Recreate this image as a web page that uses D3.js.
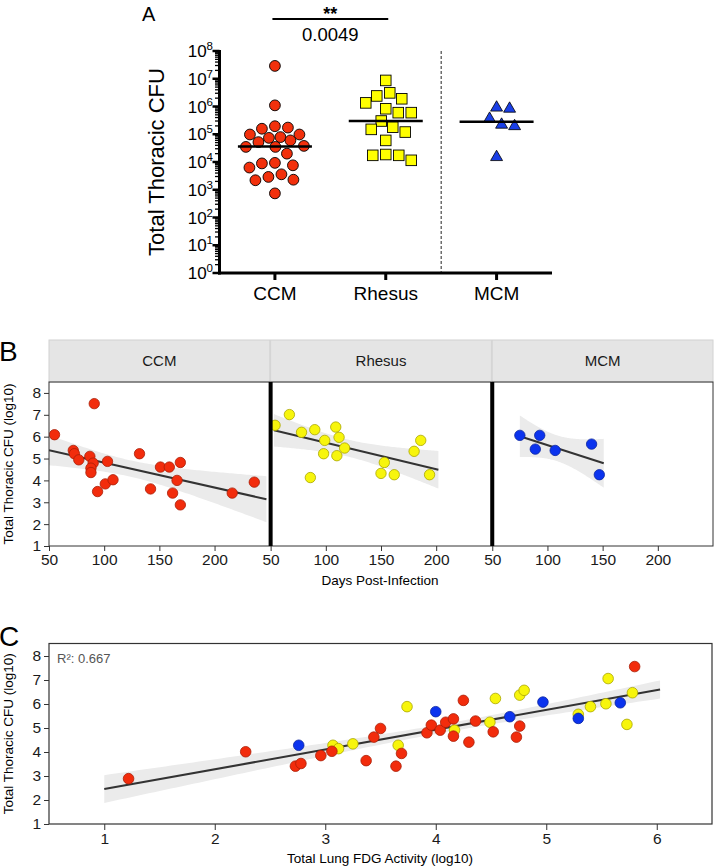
<!DOCTYPE html>
<html><head><meta charset="utf-8">
<script src="https://cdn.jsdelivr.net/npm/d3@7"></script>
<style>
html,body{margin:0;padding:0;background:#fff;}
svg{display:block;font-family:"Liberation Sans", Arial, Helvetica, sans-serif;}
</style></head><body>
<svg id="chart" width="714" height="868"></svg>
<script>
// ---------------- DATA ----------------
const groups = ["CCM", "Rhesus", "MCM"];

// Panel A: total thoracic CFU per animal
const cfuCCM = [2.9e7, 1.1e6, 1.74e5, 1.95e5, 9.8e4, 9.8e4, 1.58e5, 7.4e4, 7.9e4, 5.2e4, 6.0e4, 3.5e4,
                3.5e4, 3.8e4, 2.0e4, 8.9e3, 6.3e3, 7.6e3, 9.3e3, 3.6e3, 2.3e3, 2.2e3, 2.9e3, 740];
const cfuRhesus = [8.7e6, 3.1e6, 1.9e6, 2.4e6, 1.35e6, 8.3e5, 6.0e5, 6.0e5, 3.0e5, 1.8e5, 1.5e5, 1.2e5,
                   6.0e4, 1.74e4, 1.15e4, 1.74e4, 1.86e4];
const cfuMCM = [8.3e5, 9.1e5, 3.6e5, 2.2e5, 1.95e5, 1.5e4];
const yExponentsA = [0, 1, 2, 3, 4, 5, 6, 7, 8];
const sigStars = "**";
const pValueLabel = "0.0049";

// Panel B: days post-infection vs log10 CFU
const daysCCM = [55, 72, 73, 77, 91, 87, 90, 88, 88, 94, 103, 101, 108, 132, 142, 151, 159, 169, 166, 162, 169, 216, 236];
const logCfuCCM = [6.09, 5.37, 5.22, 4.94, 7.51, 5.10, 4.79, 4.56, 4.36, 3.49, 4.87, 3.84, 4.03, 5.22, 3.61, 4.61, 4.61, 4.82, 4.00, 3.42, 2.88, 3.42, 3.92];
const daysRhesus = [54, 67, 78, 90, 86, 99, 98, 109, 112, 117, 110, 153, 150, 162, 186, 180, 194];
const logCfuRhesus = [6.52, 7.01, 6.20, 6.32, 4.13, 5.83, 5.22, 6.44, 5.97, 5.48, 5.13, 4.82, 4.32, 4.26, 5.83, 5.33, 4.26];
const daysMCM = [75, 93, 89, 107, 140, 147];
const logCfuMCM = [6.06, 6.06, 5.43, 5.37, 5.66, 4.26];
const fitRangeDays = {CCM: [50, 247], Rhesus: [53, 202], MCM: [75, 151]};
const dayTicks = [50, 100, 150, 200];
const logTicks = [1, 2, 3, 4, 5, 6, 7, 8];

// Panel C: lung FDG activity (log10) vs CFU (log10)
const fdgRhesus = [3.07, 3.12, 3.25, 3.66, 3.74, 4.17, 4.49, 4.54, 4.76, 4.80, 5.29, 5.40, 5.56, 5.54, 5.78, 5.73];
const fdgCfuRhesus = [4.28, 4.14, 4.34, 4.28, 5.89, 4.91, 5.24, 6.23, 6.37, 6.57, 5.57, 5.89, 7.06, 6.01, 6.47, 5.15];
const fdgCCM = [1.22, 2.28, 2.73, 2.78, 2.96, 3.06, 3.37, 3.44, 3.50, 3.69, 3.64, 3.92, 3.96, 4.04, 4.09, 4.16, 4.16, 4.25, 4.30, 4.36, 4.52, 4.76, 4.73, 5.80];
const fdgCfuCCM = [2.89, 4.01, 3.41, 3.52, 3.85, 4.03, 3.64, 4.62, 4.98, 3.94, 3.41, 4.80, 5.12, 4.91, 5.24, 5.38, 4.66, 6.15, 4.41, 5.29, 4.84, 5.08, 4.62, 7.56];
const fdgMCM = [2.76, 4.00, 4.67, 4.97, 5.29, 5.67];
const fdgCfuMCM = [4.28, 5.68, 5.47, 6.08, 5.40, 6.05];
const fitRangeFdg = [1.0, 6.03];
const fdgTicks = [1, 2, 3, 4, 5, 6];
const r2Label = "R²: 0.667";

// ---------------- STYLE ----------------
const fillA = {CCM: "#f2300c", Rhesus: "#ffff00", MCM: "#1a3fe6"};
const fillPt = {CCM: "#f22c0c", Rhesus: "#f7f50c", MCM: "#0b33ee"};
const strokePt = {CCM: "#a81e08", Rhesus: "#aaa600", MCM: "#0a24a0"};

const svg = d3.select("#chart");

// ---------------- helpers ----------------
function tq975(df) {
  const z = 1.959964;
  const g1 = (z ** 3 + z) / 4;
  const g2 = (5 * z ** 5 + 16 * z ** 3 + 3 * z) / 96;
  const g3 = (3 * z ** 7 + 19 * z ** 5 + 17 * z ** 3 - 15 * z) / 384;
  return z + g1 / df + g2 / df ** 2 + g3 / df ** 3;
}
function linFit(xs, ys) {
  const n = xs.length, mx = d3.mean(xs), my = d3.mean(ys);
  let sxx = 0, sxy = 0;
  xs.forEach((x, i) => { sxx += (x - mx) ** 2; sxy += (x - mx) * (ys[i] - my); });
  const b = sxy / sxx, a = my - b * mx;
  let sse = 0;
  xs.forEach((x, i) => { sse += (ys[i] - a - b * x) ** 2; });
  const s = Math.sqrt(sse / (n - 2)), t = tq975(n - 2);
  return {pred: x => a + b * x, half: x => t * s * Math.sqrt(1 / n + (x - mx) ** 2 / sxx)};
}
function drawSmooth(g, xs, ys, range, xs_, ys_) {
  const f = linFit(xs, ys);
  const grid = d3.range(0, 101).map(i => range[0] + (range[1] - range[0]) * i / 100);
  g.append("path")
    .attr("d", d3.area().x(d => xs_(d)).y0(d => ys_(f.pred(d) - f.half(d))).y1(d => ys_(f.pred(d) + f.half(d)))(grid))
    .attr("fill", "#ebebeb");
  g.append("path")
    .attr("d", d3.line().x(d => xs_(d)).y(d => ys_(f.pred(d)))(range))
    .attr("stroke", "#333").attr("stroke-width", 2).attr("fill", "none");
}
// beeswarm with a maximum spread; falls back to least-overlapping spot
function swarm(vals, yScale, cx, dist, maxOff) {
  const pts = vals.map((v, i) => ({v, y: yScale(v), i}));
  const order = pts.slice().sort((a, b) => a.y - b.y);
  const placed = [];
  order.forEach(p => {
    let best = null, bestScore = -1;
    const cands = [0];
    for (let k = 1; k * 0.5 <= maxOff; k++) cands.push(k * 0.5, -k * 0.5);
    for (const o of cands) {
      const x = cx + o;
      const md = placed.length ? d3.min(placed, q => Math.hypot(q.x - x, q.y - p.y)) : Infinity;
      if (md >= dist) { best = x; break; }
      if (md > bestScore + 0.01) { bestScore = md; best = x; }
    }
    p.x = best; placed.push(p);
  });
  return pts;
}

// ================= PANEL A =================
const A = {left: 219.5, right: 552, top: 51, bottom: 273};
const yA = d3.scaleLog().domain([1, 1e8]).range([A.bottom, A.top]);
const xA = d3.scalePoint().domain(groups).range([A.left, A.right]).padding(0.5);
const gA = svg.append("g");

gA.append("text").attr("x", 142).attr("y", 21).attr("font-size", 20).text("A");

// minor ticks
const minorA = [];
for (let e = 0; e < 8; e++) for (let m = 2; m <= 9; m++) minorA.push(m * 10 ** e);
gA.selectAll("line.mn").data(minorA).join("line")
  .attr("x1", A.left - 4.5).attr("x2", A.left).attr("y1", d => yA(d)).attr("y2", d => yA(d))
  .attr("stroke", "#000").attr("stroke-width", 1.3);
gA.selectAll("line.mj").data(yExponentsA).join("line")
  .attr("x1", A.left - 7).attr("x2", A.left).attr("y1", d => yA(10 ** d)).attr("y2", d => yA(10 ** d))
  .attr("stroke", "#000").attr("stroke-width", 2.5);
const tl = gA.selectAll("text.tl").data(yExponentsA).join("text")
  .attr("x", 213).attr("y", d => yA(10 ** d)).attr("dy", "0.36em")
  .attr("text-anchor", "end").attr("font-size", 17);
tl.append("tspan").text("10");
tl.append("tspan").attr("dy", -7).attr("font-size", 11.5).text(d => d);

gA.append("line").attr("x1", A.left).attr("x2", A.left).attr("y1", A.top - 1).attr("y2", A.bottom + 1.5)
  .attr("stroke", "#000").attr("stroke-width", 3);
gA.append("line").attr("x1", A.left - 1.5).attr("x2", A.right).attr("y1", A.bottom).attr("y2", A.bottom)
  .attr("stroke", "#000").attr("stroke-width", 3);
gA.selectAll("line.ct").data(groups).join("line")
  .attr("x1", d => xA(d)).attr("x2", d => xA(d)).attr("y1", A.bottom).attr("y2", A.bottom + 7)
  .attr("stroke", "#000").attr("stroke-width", 3);
gA.selectAll("text.cl").data(groups).join("text")
  .attr("x", d => xA(d)).attr("y", 300).attr("text-anchor", "middle").attr("font-size", 19).text(d => d);

gA.append("text").attr("transform", `translate(164,${(A.top + A.bottom) / 2}) rotate(-90)`)
  .attr("text-anchor", "middle").attr("font-size", 22).text("Total Thoracic CFU");

// dashed separator
const sepX = (xA("Rhesus") + xA("MCM")) / 2;
gA.append("line").attr("x1", sepX).attr("x2", sepX).attr("y1", A.top).attr("y2", A.bottom - 1)
  .attr("stroke", "#222").attr("stroke-width", 1).attr("stroke-dasharray", "3,2");

// significance
gA.append("line").attr("x1", xA("CCM") - 2.5).attr("x2", xA("Rhesus") + 2.5).attr("y1", 19).attr("y2", 19)
  .attr("stroke", "#000").attr("stroke-width", 2);
gA.append("text").attr("x", (xA("CCM") + xA("Rhesus")) / 2).attr("y", 20).attr("text-anchor", "middle")
  .attr("font-size", 18).attr("font-weight", "bold").text(sigStars);
gA.append("text").attr("x", (xA("CCM") + xA("Rhesus")) / 2).attr("y", 41).attr("text-anchor", "middle")
  .attr("font-size", 18.5).text(pValueLabel);

// points
const valsA = {CCM: cfuCCM, Rhesus: cfuRhesus, MCM: cfuMCM};
const ptsCCM = swarm(cfuCCM, yA, xA("CCM"), 13, 29);
gA.selectAll("circle.pa").data(ptsCCM).join("circle")
  .attr("cx", d => d.x).attr("cy", d => d.y).attr("r", 5.4)
  .attr("fill", fillA.CCM).attr("stroke", "#000").attr("stroke-width", 0.9);
const ptsRh = swarm(cfuRhesus, yA, xA("Rhesus"), 13, 26);
gA.selectAll("rect.pa").data(ptsRh).join("rect")
  .attr("x", d => d.x - 5.3).attr("y", d => d.y - 5.3).attr("width", 10.6).attr("height", 10.6)
  .attr("fill", fillA.Rhesus).attr("stroke", "#000").attr("stroke-width", 0.9);
const ptsM = swarm(cfuMCM, yA, xA("MCM"), 13, 18);
gA.selectAll("path.pa").data(ptsM).join("path")
  .attr("transform", d => `translate(${d.x},${d.y})`)
  .attr("d", d3.symbol(d3.symbolTriangle, 62)())
  .attr("fill", fillA.MCM).attr("stroke", "#000").attr("stroke-width", 0.8);

// medians
groups.forEach(g => {
  const med = 10 ** d3.median(valsA[g].map(Math.log10));
  gA.append("line").attr("x1", xA(g) - 37).attr("x2", xA(g) + 37).attr("y1", yA(med)).attr("y2", yA(med))
    .attr("stroke", "#000").attr("stroke-width", 2.5);
});

// ================= PANEL B =================
const B = {left: 49, right: 713, stripTop: 340, top: 382, bottom: 546};
const band = d3.scaleBand().domain(groups).range([B.left, B.right]).paddingInner(0.004);
const yB = d3.scaleLinear().domain([1, 8.5]).range([B.bottom, B.top]);
const gB = svg.append("g");
gB.append("text").attr("x", -1).attr("y", 361).attr("font-size", 28).text("B");
const dataB = {
  CCM: [daysCCM, logCfuCCM],
  Rhesus: [daysRhesus, logCfuRhesus],
  MCM: [daysMCM, logCfuMCM]
};
groups.forEach((g, i) => {
  const x0 = band(g), w = band.bandwidth();
  const xB = d3.scaleLinear().domain([50, 250]).range([x0, x0 + w]);
  const f = gB.append("g");
  f.append("rect").attr("x", x0).attr("y", B.stripTop).attr("width", w).attr("height", B.top - B.stripTop)
    .attr("fill", "#e5e5e5").attr("stroke", "#d2d2d2").attr("stroke-width", 1);
  f.append("text").attr("x", x0 + w / 2).attr("y", (B.stripTop + B.top) / 2).attr("dy", "0.36em")
    .attr("text-anchor", "middle").attr("font-size", 15).attr("fill", "#1a1a1a").text(g);
  const cid = "clipB" + i;
  svg.append("clipPath").attr("id", cid).append("rect").attr("x", x0).attr("y", B.top).attr("width", w).attr("height", B.bottom - B.top);
  const inner = f.append("g").attr("clip-path", `url(#${cid})`);
  const [xs, ys] = dataB[g];
  drawSmooth(inner, xs, ys, fitRangeDays[g], xB, yB);
  inner.selectAll("circle").data(xs.map((x, j) => [x, ys[j]])).join("circle")
    .attr("cx", d => xB(d[0])).attr("cy", d => yB(d[1])).attr("r", 5.2)
    .attr("fill", fillPt[g]).attr("stroke", strokePt[g]).attr("stroke-width", 0.8);
  f.append("rect").attr("x", x0).attr("y", B.top).attr("width", w).attr("height", B.bottom - B.top)
    .attr("fill", "none").attr("stroke", "#333").attr("stroke-width", 1);
  if (i > 0) {
    f.append("line").attr("x1", x0).attr("x2", x0).attr("y1", B.top).attr("y2", B.bottom)
      .attr("stroke", "#000").attr("stroke-width", 4);
  }
  const ax = f.append("g").attr("transform", `translate(0,${B.bottom})`)
    .call(d3.axisBottom(xB).tickValues(dayTicks).tickSize(5).tickPadding(3));
  ax.select(".domain").remove();
  ax.selectAll("line").attr("stroke", "#333");
  ax.selectAll("text").attr("font-size", 15.5).attr("fill", "#1a1a1a").attr("font-family", null);
  if (i === 0) {
    const ay = f.append("g").attr("transform", `translate(${x0},0)`)
      .call(d3.axisLeft(yB).tickValues(logTicks).tickSize(5).tickPadding(3));
    ay.select(".domain").remove();
    ay.selectAll("line").attr("stroke", "#333");
    ay.selectAll("text").attr("font-size", 15.5).attr("fill", "#1a1a1a").attr("font-family", null);
  }
});
gB.append("text").attr("transform", `translate(13,${(B.top + B.bottom) / 2}) rotate(-90)`)
  .attr("text-anchor", "middle").attr("font-size", 13.5).text("Total Thoracic CFU (log10)");
gB.append("text").attr("x", 380).attr("y", 585).attr("text-anchor", "middle").attr("font-size", 13.5)
  .text("Days Post-Infection");

// ================= PANEL C =================
const C = {left: 49, right: 712, top: 643.5, bottom: 824};
const xC = d3.scaleLinear().domain([0.5, 6.5]).range([C.left, C.right]);
const yC = d3.scaleLinear().domain([1, 8.5]).range([C.bottom, C.top + 0.5]);
const gC = svg.append("g");
gC.append("text").attr("x", -1).attr("y", 646).attr("font-size", 28).text("C");
svg.append("clipPath").attr("id", "clipC").append("rect")
  .attr("x", C.left).attr("y", C.top).attr("width", C.right - C.left).attr("height", C.bottom - C.top);
const innerC = gC.append("g").attr("clip-path", "url(#clipC)");
const allFdg = fdgRhesus.concat(fdgCCM, fdgMCM);
const allCfu = fdgCfuRhesus.concat(fdgCfuCCM, fdgCfuMCM);
drawSmooth(innerC, allFdg, allCfu, fitRangeFdg, xC, yC);
[["Rhesus", fdgRhesus, fdgCfuRhesus], ["CCM", fdgCCM, fdgCfuCCM], ["MCM", fdgMCM, fdgCfuMCM]].forEach(([g, xs, ys]) => {
  innerC.append("g").selectAll("circle").data(xs.map((x, j) => [x, ys[j]])).join("circle")
    .attr("cx", d => xC(d[0])).attr("cy", d => yC(d[1])).attr("r", 5.3)
    .attr("fill", fillPt[g]).attr("stroke", strokePt[g]).attr("stroke-width", 0.8);
});
gC.append("rect").attr("x", C.left).attr("y", C.top).attr("width", C.right - C.left).attr("height", C.bottom - C.top)
  .attr("fill", "none").attr("stroke", "#333").attr("stroke-width", 1.2);
const axC = gC.append("g").attr("transform", `translate(0,${C.bottom})`)
  .call(d3.axisBottom(xC).tickValues(fdgTicks).tickFormat(d3.format("d")).tickSize(6).tickPadding(3));
axC.select(".domain").remove();
axC.selectAll("line").attr("stroke", "#333");
axC.selectAll("text").attr("font-size", 15.5).attr("fill", "#1a1a1a").attr("font-family", null);
const ayC = gC.append("g").attr("transform", `translate(${C.left},0)`)
  .call(d3.axisLeft(yC).tickValues(logTicks).tickFormat(d3.format("d")).tickSize(5).tickPadding(3));
ayC.select(".domain").remove();
ayC.selectAll("line").attr("stroke", "#333");
ayC.selectAll("text").attr("font-size", 15.5).attr("fill", "#1a1a1a").attr("font-family", null);
gC.append("text").attr("x", 57).attr("y", 663).attr("font-size", 13).attr("fill", "#555").text(r2Label);
gC.append("text").attr("transform", `translate(13,${(C.top + C.bottom) / 2}) rotate(-90)`)
  .attr("text-anchor", "middle").attr("font-size", 13.5).text("Total Thoracic CFU (log10)");
gC.append("text").attr("x", 380).attr("y", 863).attr("text-anchor", "middle").attr("font-size", 13.5)
  .text("Total Lung FDG Activity (log10)");
</script>
</body></html>
